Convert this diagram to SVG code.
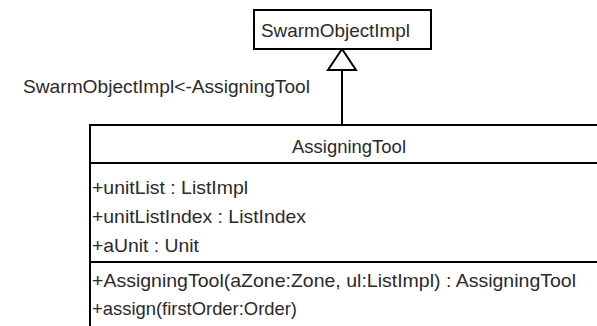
<svg xmlns="http://www.w3.org/2000/svg" width="597" height="326" viewBox="0 0 597 326">
<style>
.box{fill:#fff;stroke:#000;stroke-width:2}
.ln{stroke:#000;stroke-width:2;fill:none}
text{font-family:"Liberation Sans",Arial,sans-serif;font-size:19px;fill:#2a2a2a}
</style>
<rect width="597" height="326" fill="#fff"/>
<g id="connectors">
<line class="ln" x1="342" y1="70" x2="342" y2="125"/>
<polygon points="342,49 328,70 356,70" fill="#fff" stroke="#000" stroke-width="2"/>
<text x="23" y="93" textLength="287" lengthAdjust="spacingAndGlyphs">SwarmObjectImpl&lt;-AssigningTool</text>
</g>
<g id="SwarmObjectImpl">
<rect class="box" x="254" y="10" width="177" height="39"/>
<text x="261" y="37" textLength="149" lengthAdjust="spacingAndGlyphs">SwarmObjectImpl</text>
</g>
<g id="AssigningTool">
<rect class="box" x="90" y="125" width="520" height="220"/>
<line class="ln" x1="90" y1="163" x2="610" y2="163"/>
<line class="ln" x1="90" y1="262" x2="610" y2="262"/>
<text x="292" y="153" textLength="114" lengthAdjust="spacingAndGlyphs">AssigningTool</text>
<text x="92" y="194" textLength="156" lengthAdjust="spacingAndGlyphs">+unitList : ListImpl</text>
<text x="92" y="223" textLength="214" lengthAdjust="spacingAndGlyphs">+unitListIndex : ListIndex</text>
<text x="92" y="252" textLength="107" lengthAdjust="spacingAndGlyphs">+aUnit : Unit</text>
<text x="92" y="287" textLength="484" lengthAdjust="spacingAndGlyphs">+AssigningTool(aZone:Zone, ul:ListImpl) : AssigningTool</text>
<text x="92" y="315" textLength="205" lengthAdjust="spacingAndGlyphs">+assign(firstOrder:Order)</text>
</g>
</svg>
